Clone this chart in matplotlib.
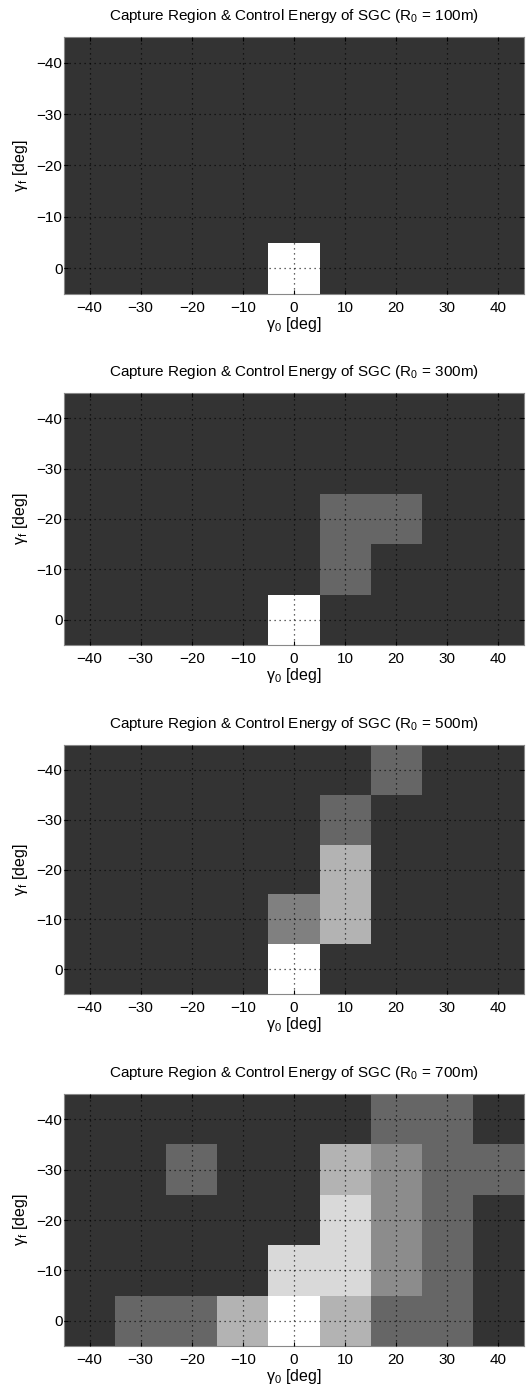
import numpy as np
import matplotlib
matplotlib.use("Agg")
import matplotlib.pyplot as plt

plt.rcParams['font.family'] = ['Liberation Sans', 'DejaVu Sans']
plt.rcParams['mathtext.default'] = 'regular'

# --- Data ---

gamma0 = [-40, -30, -20, -10, 0, 10, 20, 30, 40]   # columns [deg]
gammaf = [-40, -30, -20, -10, 0]                    # rows [deg]
ranges = [100, 300, 500, 700]                       # R0 [m]

# grey intensity of each cell (0.2 = not captured, 1.0 = lowest energy)
shade_100 = [
    [0.2, 0.2, 0.2, 0.2, 0.2, 0.2, 0.2, 0.2, 0.2],
    [0.2, 0.2, 0.2, 0.2, 0.2, 0.2, 0.2, 0.2, 0.2],
    [0.2, 0.2, 0.2, 0.2, 0.2, 0.2, 0.2, 0.2, 0.2],
    [0.2, 0.2, 0.2, 0.2, 0.2, 0.2, 0.2, 0.2, 0.2],
    [0.2, 0.2, 0.2, 0.2, 1.0, 0.2, 0.2, 0.2, 0.2],
]
shade_300 = [
    [0.2, 0.2, 0.2, 0.2, 0.2, 0.2, 0.2, 0.2, 0.2],
    [0.2, 0.2, 0.2, 0.2, 0.2, 0.2, 0.2, 0.2, 0.2],
    [0.2, 0.2, 0.2, 0.2, 0.2, 0.4, 0.4, 0.2, 0.2],
    [0.2, 0.2, 0.2, 0.2, 0.2, 0.4, 0.2, 0.2, 0.2],
    [0.2, 0.2, 0.2, 0.2, 1.0, 0.2, 0.2, 0.2, 0.2],
]
shade_500 = [
    [0.2, 0.2, 0.2, 0.2, 0.2, 0.2, 0.4, 0.2, 0.2],
    [0.2, 0.2, 0.2, 0.2, 0.2, 0.4, 0.2, 0.2, 0.2],
    [0.2, 0.2, 0.2, 0.2, 0.2, 0.7, 0.2, 0.2, 0.2],
    [0.2, 0.2, 0.2, 0.2, 0.5, 0.7, 0.2, 0.2, 0.2],
    [0.2, 0.2, 0.2, 0.2, 1.0, 0.2, 0.2, 0.2, 0.2],
]
shade_700 = [
    [0.2, 0.2, 0.2, 0.2, 0.2, 0.2, 0.4, 0.4, 0.2],
    [0.2, 0.2, 0.4, 0.2, 0.2, 0.7, 0.55, 0.4, 0.4],
    [0.2, 0.2, 0.2, 0.2, 0.2, 0.85, 0.55, 0.4, 0.2],
    [0.2, 0.2, 0.2, 0.2, 0.85, 0.85, 0.55, 0.4, 0.2],
    [0.2, 0.4, 0.4, 0.7, 1.0, 0.7, 0.4, 0.4, 0.2],
]
shades = [shade_100, shade_300, shade_500, shade_700]

# --- Layout ---

W, H = 528, 1394
panel_px = [(37, 294), (393, 645), (745, 994), (1094, 1346)]  # axes top/bottom in px

fig = plt.figure(figsize=(W / 100, H / 100), dpi=100)

for (top, bot), r0, shade in zip(panel_px, ranges, shades):
    ax = fig.add_axes([64 / W, 1 - bot / H, 460 / W, (bot - top) / H])
    ax.pcolormesh(gamma0, gammaf, np.array(shade), cmap='gray',
                  vmin=0, vmax=1, shading='nearest')
    ax.set_xlim(-45, 45)
    ax.set_ylim(5, -45)
    ax.set_xticks(gamma0)
    ax.set_yticks(gammaf)
    ax.grid(True, color='k', linestyle=(0, (1, 3)), linewidth=0.9, alpha=0.8)
    ax.set_axisbelow(False)
    ax.tick_params(direction='in', labelsize=11, length=3, color='k',
                   top=True, right=True)
    ax.tick_params(axis='x', pad=5)
    ax.tick_params(axis='y', pad=1)
    for sp in ax.spines.values():
        sp.set_color('#888888')
        sp.set_linewidth(0.8)
    ax.set_title('Capture Region & Control Energy of SGC (R$_0$ = %dm)' % r0,
                 fontsize=11, pad=12)
    ax.set_xlabel('γ$_0$ [deg]', fontsize=11.5, labelpad=0)
    ax.set_ylabel('γ$_f$ [deg]', fontsize=11.5, labelpad=5)

fig.savefig('out.png', dpi=100)
